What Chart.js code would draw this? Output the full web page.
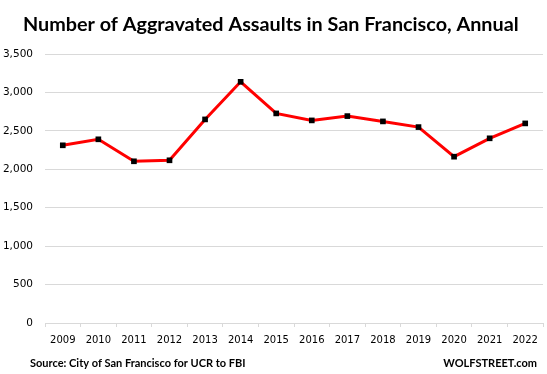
<!DOCTYPE html>
<html>
<head>
<meta charset="utf-8">
<script src="https://cdn.jsdelivr.net/npm/chart.js@4.4.0/dist/chart.umd.min.js"></script>
<style>
  html, body { margin: 0; padding: 0; background: #fff; }
  #wrap { width: 547px; height: 374px; }
</style>
</head>
<body>
<div id="wrap"><canvas id="chart" width="547" height="374"></canvas></div>
<script>
// Datos
const years = ["2009","2010","2011","2012","2013","2014","2015","2016","2017","2018","2019","2020","2021","2022"];
const assaults = [2312, 2390, 2104, 2117, 2649, 3138, 2727, 2636, 2692, 2623, 2549, 2164, 2403, 2597];
const yTicks = [0, 500, 1000, 1500, 2000, 2500, 3000, 3500];

const titleText = "Number of Aggravated Assaults in San Francisco, Annual";
const sourceText = "Source: City of San Francisco for UCR to FBI";
const brandText = "WOLFSTREET.com";

const gridColor = "#d9d9d9";

// Título y pie dibujados sobre el canvas
const textPlugin = {
  id: "texts",
  afterDraw(chart) {
    const c = chart.ctx;
    c.save();
    c.fillStyle = "#000";
    c.textBaseline = "middle";
    c.textAlign = "left";
    c.font = "bold 19.8px Lato";
    c.fillText(titleText, 23, 25);
    c.font = "bold 11px Lato";
    c.fillText(sourceText, 30, 363);
    c.textAlign = "right";
    c.fillText(brandText, 537, 363);
    c.restore();
  }
};

new Chart(document.getElementById("chart"), {
  type: "line",
  data: {
    labels: years,
    datasets: [{
      data: assaults,
      borderColor: "#ff0000",
      borderWidth: 3,
      tension: 0,
      pointStyle: "rect",
      pointRadius: 4,
      pointBackgroundColor: "#000",
      pointBorderColor: "#000",
      pointBorderWidth: 0
    }]
  },
  options: {
    responsive: false,
    devicePixelRatio: 1,
    animation: false,
    layout: { padding: { top: 54, left: 0, right: 0, bottom: 0 } },
    plugins: { legend: { display: false }, tooltip: { enabled: false }, title: { display: false } },
    scales: {
      x: {
        offset: true,
        grid: { display: true, drawOnChartArea: false, drawTicks: true, tickLength: 4, color: gridColor, offset: true },
        border: { display: true, color: gridColor },
        ticks: { color: "#000", font: { family: "DejaVu Sans", size: 10 }, padding: 7, maxRotation: 0, autoSkip: false },
        afterFit(scale) { scale.height = 51; }
      },
      y: {
        min: yTicks[0],
        max: yTicks[yTicks.length - 1],
        afterBuildTicks(scale) { scale.ticks = yTicks.map(v => ({ value: v })); },
        grid: { color: gridColor, drawTicks: false },
        border: { display: false },
        ticks: {
          color: "#000",
          font: { family: "DejaVu Sans", size: 10.5 },
          padding: 12,
          callback: v => v.toLocaleString("en-US")
        },
        afterFit(scale) { scale.width = 45; }
      }
    }
  },
  plugins: [textPlugin]
});
</script>
</body>
</html>
